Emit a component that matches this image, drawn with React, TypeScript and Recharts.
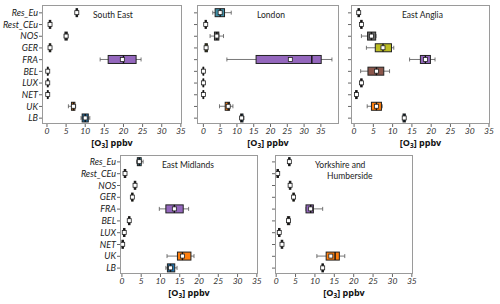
import React from "react";
import { ComposedChart, Bar, XAxis, YAxis } from "recharts";

const CATEGORIES = ["Res_Eu", "Rest_CEu", "NOS", "GER", "FRA", "BEL", "LUX", "NET", "UK", "LB"];
const COLORS = ["#3e8ea6", "#d9687e", "#6a6a6a", "#bcbd22", "#9467bd", "#8c564b", "#e377c2", "#7f7f7f", "#ff7f0e", "#1f77b4"];
const X_TICKS = [0, 5, 10, 15, 20, 25, 30, 35];

// each row: [lower whisker, Q1, median, Q3, upper whisker, mean]
const SOUTH_EAST = [
  [7.4, 7.6, 7.8, 8.0, 8.2, 7.8],
  [0.5, 0.6, 0.8, 1.0, 1.1, 0.8],
  [4.5, 4.7, 5.0, 5.3, 5.5, 5.0],
  [0.5, 0.6, 0.8, 1.0, 1.1, 0.8],
  [13.9, 16.0, 20.0, 23.3, 24.6, 19.7],
  [0.0, 0.1, 0.2, 0.3, 0.4, 0.2],
  [0.0, 0.1, 0.2, 0.3, 0.4, 0.2],
  [0.0, 0.1, 0.2, 0.3, 0.4, 0.2],
  [5.6, 6.4, 6.9, 7.3, 7.5, 6.9],
  [8.9, 9.2, 10.0, 10.8, 11.2, 10.0],
];
const LONDON = [
  [2.8, 3.5, 5.0, 6.3, 8.3, 5.0],
  [0.4, 0.5, 0.7, 0.9, 1.0, 0.7],
  [2.0, 3.3, 4.0, 4.6, 6.0, 4.0],
  [0.5, 0.5, 0.8, 1.2, 1.3, 0.8],
  [7.0, 15.7, 32.3, 35.1, 38.3, 25.9],
  [-0.2, -0.1, 0.0, 0.1, 0.2, 0.0],
  [-0.2, -0.1, 0.0, 0.1, 0.2, 0.0],
  [-0.2, -0.1, 0.0, 0.1, 0.2, 0.0],
  [4.8, 6.5, 7.4, 7.8, 8.8, 7.4],
  [10.9, 11.1, 11.4, 11.8, 12.1, 11.4],
];
const EAST_ANGLIA = [
  [0.9, 1.0, 1.2, 1.4, 1.5, 1.2],
  [1.6, 1.7, 1.9, 2.1, 2.2, 1.9],
  [1.9, 3.5, 4.5, 5.6, 5.7, 4.5],
  [3.2, 5.5, 7.5, 9.7, 10.3, 7.5],
  [14.4, 17.2, 18.5, 19.8, 21.0, 18.5],
  [1.7, 3.6, 5.8, 7.7, 9.2, 5.8],
  [1.6, 1.7, 1.9, 2.1, 2.2, 1.9],
  [0.3, 0.4, 0.6, 0.8, 0.9, 0.6],
  [3.4, 4.5, 5.8, 7.1, 7.3, 5.8],
  [12.6, 12.7, 13.0, 13.3, 13.4, 13.0],
];
const EAST_MIDLANDS = [
  [3.8, 4.0, 4.5, 5.0, 5.5, 4.5],
  [0.5, 0.6, 0.8, 1.0, 1.1, 0.8],
  [3.1, 3.2, 3.4, 3.6, 3.7, 3.4],
  [2.4, 2.5, 2.7, 2.9, 3.0, 2.7],
  [9.7, 11.4, 13.6, 15.9, 17.3, 13.6],
  [1.6, 1.7, 1.9, 2.1, 2.2, 1.9],
  [0.3, 0.4, 0.6, 0.8, 0.9, 0.6],
  [-0.1, 0.0, 0.2, 0.4, 0.5, 0.2],
  [11.7, 14.4, 15.7, 17.9, 18.7, 15.7],
  [11.4, 11.8, 12.6, 13.7, 14.3, 12.6],
];
const YORKSHIRE = [
  [3.1, 3.2, 3.4, 3.6, 3.7, 3.4],
  [0.1, 0.2, 0.4, 0.6, 0.7, 0.4],
  [3.3, 3.4, 3.6, 3.8, 3.9, 3.6],
  [4.2, 4.3, 4.5, 4.7, 4.8, 4.5],
  [7.7, 7.7, 8.9, 9.6, 12.0, 8.9],
  [2.8, 2.9, 3.2, 3.5, 3.6, 3.2],
  [0.5, 0.6, 0.8, 1.0, 1.1, 0.8],
  [1.2, 1.3, 1.5, 1.7, 1.8, 1.5],
  [10.5, 12.9, 15.2, 16.3, 17.7, 14.1],
  [11.7, 11.8, 12.0, 12.2, 12.3, 12.0],
];

const FONT = "Lato, 'Open Sans', sans-serif";
const BOX_H = 8;

const Whisker = (p: any) => {
  const x0 = Math.min(p.x, p.x + p.width);
  const x1 = Math.max(p.x, p.x + p.width);
  const cy = p.y + p.height / 2;
  return (
    <g>
      <line x1={x0} x2={x1} y1={cy} y2={cy} stroke="#555" strokeWidth={0.8} />
      <line x1={x0} x2={x0} y1={cy - 2} y2={cy + 2} stroke="#555" strokeWidth={0.8} />
      <line x1={x1} x2={x1} y1={cy - 2} y2={cy + 2} stroke="#555" strokeWidth={0.8} />
    </g>
  );
};
const BoxShape = (p: any) => {
  const x0 = Math.min(p.x, p.x + p.width);
  const w = Math.abs(p.width);
  const cy = p.y + p.height / 2;
  return <rect x={x0} y={cy - BOX_H / 2} width={w} height={BOX_H} fill={p.payload.color} stroke="#222" strokeWidth={1} />;
};
const MedianShape = (p: any) => {
  const cy = p.y + p.height / 2;
  return <line x1={p.x} x2={p.x} y1={cy - BOX_H / 2} y2={cy + BOX_H / 2} stroke="#111" strokeWidth={1.4} />;
};
const MeanShape = (p: any) => {
  const cy = p.y + p.height / 2;
  return <rect x={p.x - 2} y={cy - 2} width={4} height={4} fill="#fff" stroke="#222" strokeWidth={0.8} />;
};

type PanelProps = {
  stats: number[][];
  domain: [number, number];
  plotLeft: number;
  plotTop: number;
  plotW: number;
  plotH: number;
  padTop: number;
  showLabels: boolean;
  yW: number;
};

const Panel = ({ stats, domain, plotLeft, plotTop, plotW, plotH, padTop, showLabels, yW }: PanelProps) => {
  const data = CATEGORIES.map((name, i) => {
    const [lo, q1, md, q3, hi, mn] = stats[i];
    return { name, whisk: [lo, hi], box: [q1, q3], med: [md, md], mean: [mn, mn], color: COLORS[i] };
  });
  const mTop = 5;
  const xH = 20;
  const width = yW + plotW + 5;
  const height = mTop + plotH + xH;
  const xTick = { fontSize: 8.5, fontStyle: "italic", fill: "#333", fontFamily: FONT };
  const yTick = { fontSize: 9, fontStyle: "italic", fill: "#222", fontFamily: FONT };
  return (
    <div style={{ position: "absolute", left: plotLeft - yW, top: plotTop - mTop }}>
      <ComposedChart layout="vertical" width={width} height={height} data={data} margin={{ top: mTop, right: 5, left: 0, bottom: 0 }}>
        <XAxis
          type="number"
          domain={domain}
          ticks={X_TICKS}
          allowDataOverflow
          height={xH}
          tickSize={3}
          tickMargin={1}
          axisLine={false}
          tickLine={{ stroke: "#666" }}
          tick={xTick}
          interval={0}
        />
        <YAxis
          yAxisId="a"
          type="category"
          dataKey="name"
          width={yW}
          padding={{ top: padTop, bottom: 0 }}
          tickSize={3}
          tickMargin={1}
          axisLine={false}
          tickLine={{ stroke: "#666" }}
          tick={yTick}
          interval={0}
          tickFormatter={(v: string) => (showLabels ? v : "")}
        />
        <YAxis yAxisId="b" type="category" dataKey="name" hide padding={{ top: padTop, bottom: 0 }} />
        <YAxis yAxisId="c" type="category" dataKey="name" hide padding={{ top: padTop, bottom: 0 }} />
        <YAxis yAxisId="d" type="category" dataKey="name" hide padding={{ top: padTop, bottom: 0 }} />
        <Bar yAxisId="a" dataKey="whisk" shape={Whisker} isAnimationActive={false} />
        <Bar yAxisId="b" dataKey="box" shape={BoxShape} isAnimationActive={false} />
        <Bar yAxisId="c" dataKey="med" shape={MedianShape} isAnimationActive={false} />
        <Bar yAxisId="d" dataKey="mean" shape={MeanShape} isAnimationActive={false} />
      </ComposedChart>
      <div
        style={{
          position: "absolute",
          left: yW,
          top: mTop,
          width: plotW,
          height: plotH,
          border: "1px solid #9a9a9a",
          boxSizing: "border-box",
          pointerEvents: "none",
        }}
      />
      <div
        style={{
          position: "absolute",
          left: yW,
          width: plotW,
          top: mTop + plotH + 14,
          textAlign: "center",
          fontFamily: "'Open Sans', sans-serif",
          fontWeight: 700,
          fontSize: 9,
          lineHeight: "10px",
          color: "#111",
        }}
      >
        [O<sub style={{ fontSize: 6.5, verticalAlign: "-2px", lineHeight: 0 }}>3</sub>] ppbv
      </div>
    </div>
  );
};

const Title = ({ x, y, text }: { x: number; y: number; text: string }) => (
  <div style={{ position: "absolute", left: x, top: y - 5, fontFamily: FONT, fontSize: 8.5, lineHeight: "10px", color: "#222", whiteSpace: "nowrap" }}>
    {text}
  </div>
);

export default function App() {
  return (
    <div style={{ position: "fixed", left: 0, top: 0, width: 500, height: 304, background: "#fff", overflow: "hidden" }}>
      <Panel stats={SOUTH_EAST} domain={[-1.3, 35.3]} plotLeft={42} plotTop={5} plotW={140} plotH={119} padTop={2} showLabels yW={42} />
      <Panel stats={LONDON} domain={[-1.9, 40.4]} plotLeft={197} plotTop={5} plotW={142} plotH={119} padTop={2} showLabels={false} yW={8} />
      <Panel stats={EAST_ANGLIA} domain={[-0.8, 35.26]} plotLeft={351} plotTop={5} plotW={139} plotH={119} padTop={2} showLabels={false} yW={8} />
      <Panel stats={EAST_MIDLANDS} domain={[-0.5, 35.3]} plotLeft={120} plotTop={155} plotW={138} plotH={119} padTop={1} showLabels yW={45} />
      <Panel stats={YORKSHIRE} domain={[-0.3, 35.3]} plotLeft={275} plotTop={155} plotW={138} plotH={119} padTop={1} showLabels={false} yW={8} />
      <Title x={93} y={15} text="South East" />
      <Title x={257} y={15} text="London" />
      <Title x={402} y={15} text="East Anglia" />
      <Title x={162} y={165} text="East Midlands" />
      <Title x={315} y={165} text="Yorkshire and" />
      <Title x={327} y={176} text="Humberside" />
    </div>
  );
}
